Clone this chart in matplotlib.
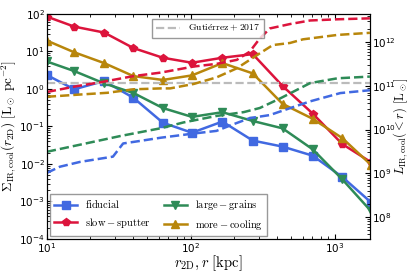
import numpy as np
import matplotlib
matplotlib.use("Agg")
import matplotlib.pyplot as plt

# radial bins [kpc]
r = [10, 15.5, 25, 40, 64, 102, 166, 270, 435, 705, 1130, 1800]

# surface brightness profiles [Lsun pc^-2]
sig_fid = [2.35, 0.98, 1.63, 0.58, 0.126, 0.068, 0.135, 0.042, 0.029, 0.0166, 0.0045, 0.00093]
sig_slow = [85, 46, 32, 12.3, 6.8, 5.0, 6.8, 8.5, 1.2, 0.22, 0.034, 0.011]
sig_large = [5.4, 3.0, 1.41, 0.78, 0.31, 0.18, 0.24, 0.14, 0.089, 0.0245, 0.0039, 0.00054]
sig_more = [19.5, 9.5, 4.9, 2.2, 1.74, 2.3, 4.9, 2.6, 0.40, 0.16, 0.049, 0.0093]

# cumulative luminosities [Lsun]
r_cum_fid = [10, 12.3, 17, 28.8, 33.9, 44.7, 62, 105, 151, 191, 257, 355, 417, 676, 1096, 1760]
L_fid = [1.02e9, 1.41e9, 1.82e9, 2.4e9, 4.8e9, 5.5e9, 6.5e9, 8.1e9, 9.3e9, 1.26e10,
         1.82e10, 2.14e10, 2.57e10, 4.4e10, 6.8e10, 7.9e10]
r_cum_slow = [10, 16.2, 24.5, 40, 62, 105, 151, 209, 257, 302, 355, 490, 676, 1047, 1760]
L_slow = [7.2e10, 9.8e10, 1.23e11, 1.66e11, 2.0e11, 2.75e11, 3.16e11, 3.9e11, 6.0e11,
          1.2e12, 2.04e12, 2.57e12, 3.1e12, 3.3e12, 3.47e12]
r_cum_large = [10, 17, 32.4, 62, 89, 151, 234, 302, 417, 676, 1047, 1760]
L_large = [3.1e9, 4.5e9, 7.1e9, 1.07e10, 1.45e10, 2.04e10, 2.5e10, 3.1e10, 5.1e10,
           1.15e11, 1.48e11, 1.62e11]
r_cum_more = [10, 17, 26.3, 40, 62, 72, 105, 151, 209, 302, 372, 490, 603, 1047, 1760]
L_more = [5.6e10, 6.3e10, 6.9e10, 8.3e10, 8.7e10, 8.7e10, 1.1e11, 1.55e11, 2.5e11,
          5.5e11, 8.5e11, 9.5e11, 1.15e12, 1.45e12, 1.62e12]

gut_value = 1.4

fig = plt.figure(figsize=(4.11, 2.74), dpi=100)
ax = fig.add_axes([0.114, 0.128, 0.786, 0.821])
ax2 = ax.twinx()

lw = 1.8
l1, = ax.plot(r, sig_fid, '-s', color='royalblue', lw=lw, ms=5.5, label=r'$\rm fiducial$')
l2, = ax.plot(r, sig_slow, '-p', color='crimson', lw=lw, ms=5.5, label=r'$\rm slow-sputter$')
l3, = ax.plot(r, sig_large, '-v', color='seagreen', lw=lw, ms=5.5, label=r'$\rm large-grains$')
l4, = ax.plot(r, sig_more, '-^', color='darkgoldenrod', lw=lw, ms=5.5, label=r'$\rm more-cooling$')
gline = ax.axhline(gut_value, color='#bbbbbb', ls='--', lw=1.6, label=r'$\rm Guti\acute{e}rrez+2017$')

ax2.plot(r_cum_fid, L_fid, '--', color='royalblue', lw=lw)
ax2.plot(r_cum_slow, L_slow, '--', color='crimson', lw=lw)
ax2.plot(r_cum_large, L_large, '--', color='seagreen', lw=lw)
ax2.plot(r_cum_more, L_more, '--', color='darkgoldenrod', lw=lw)

ax.set_xscale('log')
ax.set_yscale('log')
ax2.set_yscale('log')
ax.set_xlim(10, 1760)
ax.set_ylim(1e-4, 1e2)
ax2.set_ylim(10**7.5, 10**12.64)

ax.tick_params(which='both', direction='in', top=True, labelsize=7.5, pad=1.5)
ax2.tick_params(which='both', direction='in', labelsize=7.5, pad=1.5)

xl = ax.set_xlabel(r'$r_{\rm 2D}, r\ [{\rm kpc}]$', fontsize=10.5, labelpad=-1)
yl = ax.set_ylabel(r'$\Sigma_{\rm IR,cool}(r_{\rm 2D})\ [{\rm L_\odot\ pc^{-2}}]$', fontsize=9.5, labelpad=0)
yl2 = ax2.set_ylabel(r'$L_{\rm IR,cool}(<r)\ [{\rm L_\odot}]$', fontsize=9, labelpad=-3)
for t in (xl, yl, yl2):
    t.set_math_fontfamily('cm')

leg = ax.legend(handles=[l1, l2, l3, l4], loc='lower left', ncol=2, fontsize=7.5,
                fancybox=False, edgecolor='gray', handlelength=2.2,
                borderaxespad=0.3, columnspacing=1.2)
leg2 = ax2.legend(handles=[gline], loc='upper center', fontsize=7, fancybox=False,
                  edgecolor='gray', handlelength=2.5, borderaxespad=0.5)
for t in leg.get_texts() + leg2.get_texts():
    t.set_math_fontfamily('cm')

fig.savefig('out.png', dpi=100)
